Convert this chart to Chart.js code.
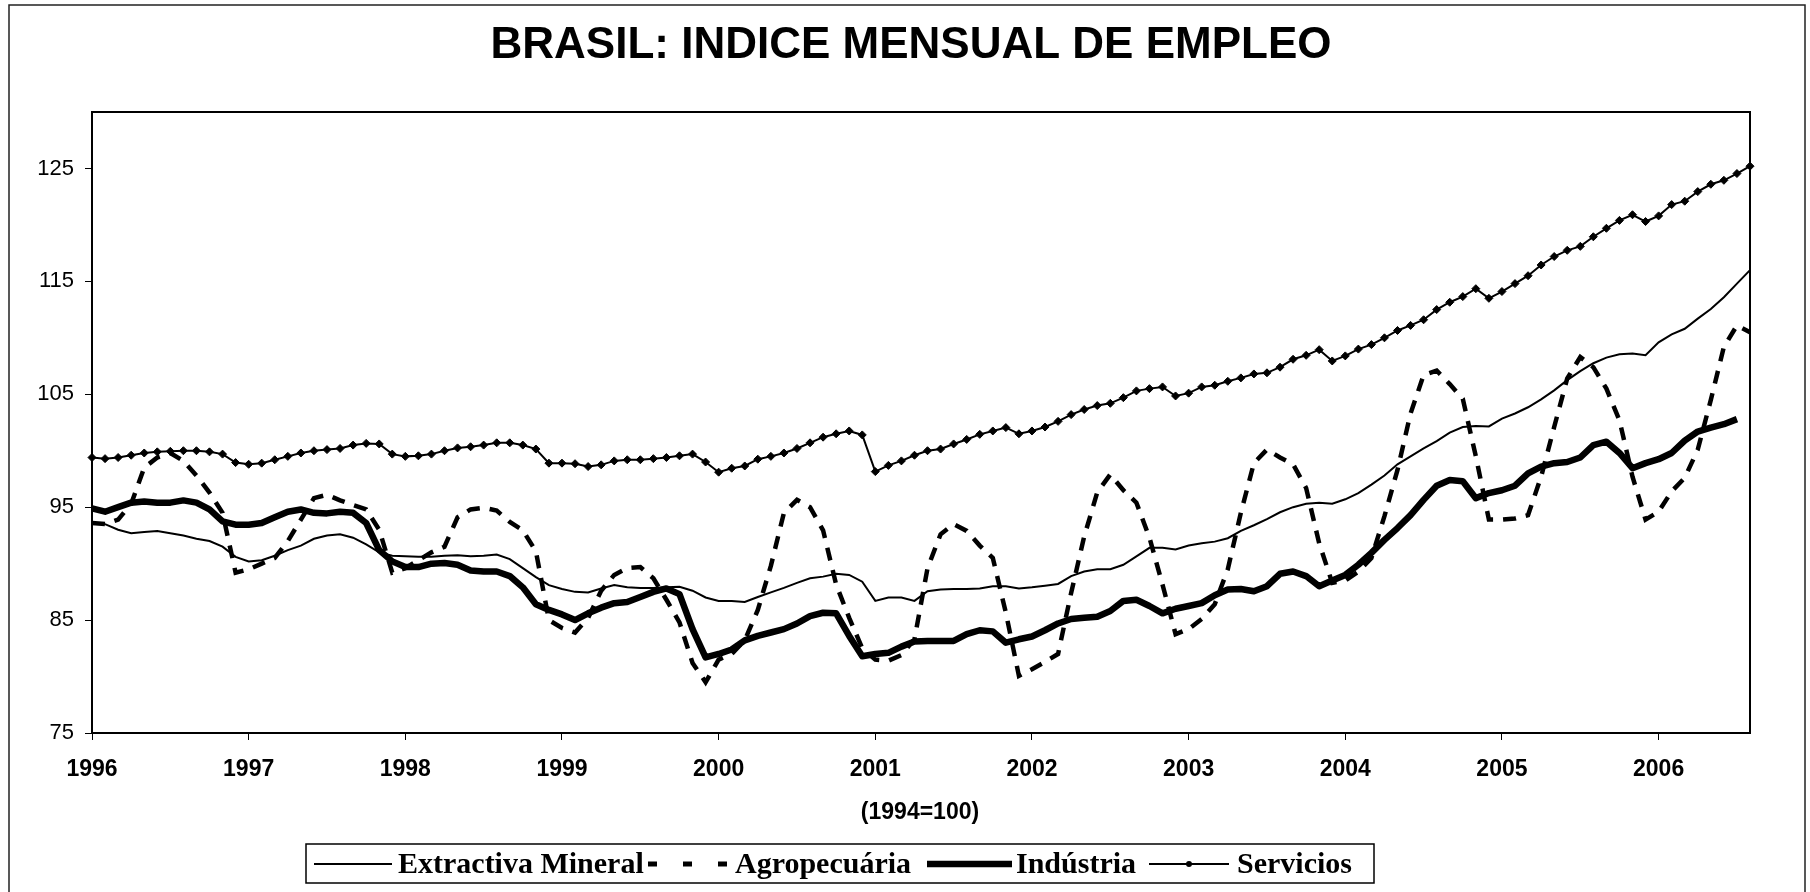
<!DOCTYPE html>
<html>
<head>
<meta charset="utf-8">
<title>Brasil: Indice mensual de empleo</title>
<script src="https://cdn.jsdelivr.net/npm/chart.js@4.4.1/dist/chart.umd.min.js"></script>
<style>
  html, body { margin: 0; padding: 0; background: #fff; }
  canvas { display: block; }
</style>
</head>
<body>
<canvas id="grafico" width="1810" height="892"></canvas>
<script>
// Datos (indice 1994=100), mensual desde ene-1996 hasta ago-2006
const anos  = ['1996','1997','1998','1999','2000','2001','2002','2003','2004','2005','2006'];
const meses = ['ene','feb','mar','abr','may','jun','jul','ago','sep','oct','nov','dic'];
const yTicks = [75, 85, 95, 105, 115, 125];

const extractiva = [
  93.6, 93.5, 93.0, 92.7, 92.8, 92.9, 92.7, 92.5, 92.2, 92.0, 91.5, 90.6,
  90.2, 90.3, 90.7, 91.2, 91.6, 92.2, 92.5, 92.6, 92.3, 91.7, 91.0, 90.7,
  90.65, 90.6, 90.6, 90.7, 90.75, 90.65, 90.7, 90.8, 90.4, 89.6, 88.8, 88.1,
  87.75, 87.5, 87.45, 87.8, 88.1, 87.9, 87.85, 87.85, 87.9, 87.95, 87.6, 87.0,
  86.7, 86.7, 86.6, 87.05, 87.45, 87.85, 88.3, 88.7, 88.85, 89.1, 89.0, 88.4,
  86.7, 87.0, 87.0, 86.7, 87.55, 87.7, 87.75, 87.75, 87.8, 88.0, 88.0, 87.8,
  87.9, 88.05, 88.2, 88.9, 89.3, 89.5, 89.5, 89.9, 90.65, 91.4, 91.4, 91.25,
  91.6, 91.8, 91.95, 92.25, 92.9, 93.4, 93.95, 94.55, 95.0, 95.3, 95.4, 95.3,
  95.7, 96.25, 97.0, 97.8, 98.8, 99.5, 100.2, 100.85, 101.6, 102.1, 102.2, 102.15,
  102.85, 103.3, 103.85, 104.55, 105.35, 106.25, 107.05, 107.75, 108.25, 108.55, 108.6, 108.45,
  109.6, 110.3, 110.8, 111.7, 112.55, 113.6, 114.8, 116.0
];

const agropecuaria = [
  93.6, 93.5, 93.9, 95.3, 98.5, 99.4, 99.8, 99.1, 97.8, 96.3, 94.5, 89.2,
  89.5, 90.0, 90.5, 92.0, 93.9, 95.8, 96.1, 95.6, 95.2, 94.8, 93.0, 89.2,
  89.6, 90.3, 91.0, 91.5, 94.1, 94.8, 94.95, 94.7, 93.7, 92.95, 91.1, 85.0,
  84.3, 83.9, 85.2, 87.6, 89.0, 89.6, 89.7, 88.7, 86.8, 84.8, 81.2, 79.5,
  81.5, 82.0, 83.2, 85.9, 89.8, 94.5, 95.65, 95.0, 92.95, 88.15, 85.2, 82.5,
  81.5, 81.4, 81.9, 83.3, 89.6, 92.6, 93.5, 92.9, 91.6, 90.5, 85.65, 80.06,
  80.65, 81.3, 82.0, 87.4, 92.4, 96.3, 97.9, 96.5, 95.4, 92.3, 88.15, 83.75,
  84.2, 85.1, 86.4, 89.5, 94.5, 98.9, 100.1, 99.4, 98.8, 96.7, 91.8, 88.3,
  88.5, 89.3, 90.5, 94.2, 98.3, 103.3, 106.7, 107.1, 105.9, 104.6, 99.5, 93.9,
  93.9, 94.0, 94.3, 97.7, 102.1, 106.4, 108.3, 107.4, 105.5, 102.7, 97.7, 93.9,
  94.6, 96.4, 97.6, 100.1, 104.5, 109.2, 111.1, 110.5
];

const industria = [
  94.9, 94.6, 95.0, 95.4, 95.5, 95.4, 95.4, 95.6, 95.4, 94.8, 93.75, 93.45,
  93.45, 93.6, 94.1, 94.6, 94.8, 94.5, 94.45, 94.6, 94.5, 93.6, 91.2, 90.2,
  89.7, 89.7, 90.0, 90.05, 89.9, 89.4, 89.3, 89.3, 88.9, 87.9, 86.4, 85.9,
  85.5, 85.0, 85.6, 86.1, 86.5, 86.6, 87.05, 87.5, 87.8, 87.3, 84.2, 81.7,
  82.0, 82.4, 83.2, 83.6, 83.9, 84.2, 84.7, 85.35, 85.65, 85.6, 83.6, 81.8,
  82.0, 82.1, 82.65, 83.1, 83.15, 83.15, 83.15, 83.75, 84.1, 84.0, 83.0, 83.3,
  83.55, 84.1, 84.7, 85.1, 85.2, 85.3, 85.8, 86.7, 86.8, 86.25, 85.6, 86.0,
  86.25, 86.5, 87.2, 87.7, 87.75, 87.55, 88.0, 89.1, 89.3, 88.9, 88.0, 88.5,
  89.0, 89.9, 90.95, 92.1, 93.15, 94.3, 95.65, 96.9, 97.4, 97.3, 95.8, 96.25,
  96.5, 96.9, 98.0, 98.6, 98.9, 99.0, 99.4, 100.5, 100.8, 99.8, 98.45, 98.9,
  99.25, 99.8, 100.9, 101.7, 102.05, 102.35, 102.8
];

const servicios = [
  99.4, 99.3, 99.4, 99.6, 99.8, 99.9, 99.95, 100.0, 100.0, 99.9, 99.7, 98.95,
  98.8, 98.9, 99.2, 99.5, 99.8, 100.0, 100.1, 100.2, 100.5, 100.65, 100.6, 99.7,
  99.5, 99.55, 99.7, 100.0, 100.25, 100.35, 100.5, 100.7, 100.7, 100.5, 100.15, 98.9,
  98.9, 98.85, 98.6, 98.75, 99.1, 99.2, 99.2, 99.3, 99.4, 99.55, 99.7, 99.0,
  98.1, 98.45, 98.65, 99.25, 99.5, 99.8, 100.2, 100.7, 101.2, 101.5, 101.75, 101.4,
  98.15, 98.7, 99.1, 99.6, 100.0, 100.15, 100.6, 101.0, 101.45, 101.75, 102.05, 101.5,
  101.75, 102.1, 102.6, 103.2, 103.65, 104.0, 104.2, 104.7, 105.3, 105.5, 105.65, 104.85,
  105.1, 105.65, 105.8, 106.15, 106.45, 106.8, 106.9, 107.4, 108.1, 108.45, 108.95, 107.95,
  108.4, 109.0, 109.4, 110.0, 110.65, 111.1, 111.6, 112.5, 113.15, 113.65, 114.35, 113.5,
  114.1, 114.8, 115.5, 116.45, 117.2, 117.75, 118.1, 118.95, 119.7, 120.4, 120.9, 120.3,
  120.8, 121.8, 122.1, 122.95, 123.6, 123.95, 124.55, 125.2
];

// etiquetas mensuales: "ene 1996" ... "ago 2006"
const etiquetas = [];
anos.forEach(a => meses.forEach(m => etiquetas.push(m + ' ' + a)));
etiquetas.length = servicios.length;

const SANS  = '"Liberation Sans", Arial, sans-serif';
const SERIF = '"Liberation Serif", "Times New Roman", serif';

// Titulo, nota del eje, leyenda y marcos
const decoracion = {
  id: 'decoracion',
  afterDraw(chart) {
    const ctx = chart.ctx;
    const a = chart.chartArea;
    ctx.save();

    // marco exterior
    ctx.strokeStyle = '#222';
    ctx.lineWidth = 1.5;
    ctx.beginPath();
    ctx.moveTo(9, 900); ctx.lineTo(9, 5); ctx.lineTo(1805, 5); ctx.lineTo(1805, 900);
    ctx.stroke();

    // marco del area de trazado
    ctx.strokeStyle = '#000';
    ctx.lineWidth = 2;
    ctx.strokeRect(a.left, a.top, a.right - a.left, a.bottom - a.top);

    // titulo
    ctx.fillStyle = '#000';
    ctx.textAlign = 'center';
    ctx.textBaseline = 'alphabetic';
    ctx.font = 'bold 44px ' + SANS;
    ctx.fillText('BRASIL: INDICE MENSUAL DE EMPLEO', 911, 58);

    // nota bajo el eje
    ctx.font = 'bold 23px ' + SANS;
    ctx.textBaseline = 'middle';
    ctx.fillText('(1994=100)', 920, 813);

    // leyenda
    ctx.lineWidth = 1.5;
    ctx.strokeRect(306, 844, 1068, 39);
    const yl = 864;
    ctx.font = 'bold 30px ' + SERIF;
    ctx.textAlign = 'left';

    // Extractiva Mineral
    ctx.lineWidth = 2;
    ctx.beginPath(); ctx.moveTo(314, yl); ctx.lineTo(392, yl); ctx.stroke();
    ctx.fillText('Extractiva Mineral', 398, yl + 1);

    // Agropecuária
    ctx.lineWidth = 5;
    ctx.setLineDash([9, 26]);
    ctx.beginPath(); ctx.moveTo(648, yl); ctx.lineTo(728, yl); ctx.stroke();
    ctx.setLineDash([]);
    ctx.fillText('Agropecuária', 735, yl + 1);

    // Indústria
    ctx.lineWidth = 6.5;
    ctx.beginPath(); ctx.moveTo(927, yl); ctx.lineTo(1012, yl); ctx.stroke();
    ctx.fillText('Indústria', 1016, yl + 1);

    // Servicios
    ctx.lineWidth = 2;
    ctx.beginPath(); ctx.moveTo(1149, yl); ctx.lineTo(1229, yl); ctx.stroke();
    ctx.beginPath(); ctx.arc(1189, yl, 3, 0, Math.PI * 2); ctx.fill();
    ctx.fillText('Servicios', 1237, yl + 1);

    ctx.restore();
  }
};

const ctx = document.getElementById('grafico');
new Chart(ctx, {
  type: 'line',
  data: {
    labels: etiquetas,
    datasets: [
      { label: 'Extractiva Mineral', data: extractiva, borderColor: '#000', borderWidth: 2,
        pointRadius: 0, tension: 0 },
      { label: 'Agropecuária', data: agropecuaria, borderColor: '#000', borderWidth: 4.5,
        borderDash: [13, 10], pointRadius: 0, tension: 0 },
      { label: 'Indústria', data: industria, borderColor: '#000', borderWidth: 6.5,
        borderJoinStyle: 'round', pointRadius: 0, tension: 0 },
      { label: 'Servicios', data: servicios, borderColor: '#000', borderWidth: 2,
        pointStyle: 'rectRot', pointRadius: 4, pointBackgroundColor: '#000',
        pointBorderColor: '#000', pointBorderWidth: 1, tension: 0 }
    ]
  },
  options: {
    responsive: false,
    animation: false,
    devicePixelRatio: 1,
    layout: { padding: { left: 0, right: 60, top: 112, bottom: 0 } },
    plugins: {
      legend: { display: false },
      title: { display: false },
      tooltip: { enabled: false }
    },
    scales: {
      x: {
        type: 'category',
        offset: false,
        afterBuildTicks: s => { s.ticks = s.ticks.filter(t => t.value % 12 === 0); },
        afterFit: s => { s.height = 159; },
        grid: { display: true, drawOnChartArea: false, drawTicks: true, tickLength: 7,
                color: '#000', lineWidth: 1 },
        border: { display: true, color: '#000', width: 2 },
        ticks: {
          autoSkip: false, maxRotation: 0, minRotation: 0, padding: 16, color: '#000',
          font: { family: SANS, size: 23, weight: 'bold' },
          callback: function (v) { return this.getLabelForValue(v).split(' ')[1]; }
        }
      },
      y: {
        type: 'linear',
        min: 75,
        max: 130,
        afterBuildTicks: s => { s.ticks = yTicks.map(v => ({ value: v })); },
        afterFit: s => { s.width = 92; },
        grid: { display: true, drawOnChartArea: false, drawTicks: true, tickLength: 7,
                color: '#000', lineWidth: 1 },
        border: { display: true, color: '#000', width: 2 },
        ticks: { padding: 11, color: '#000', font: { family: SANS, size: 22 } }
      }
    }
  },
  plugins: [decoracion]
});
</script>
</body>
</html>
